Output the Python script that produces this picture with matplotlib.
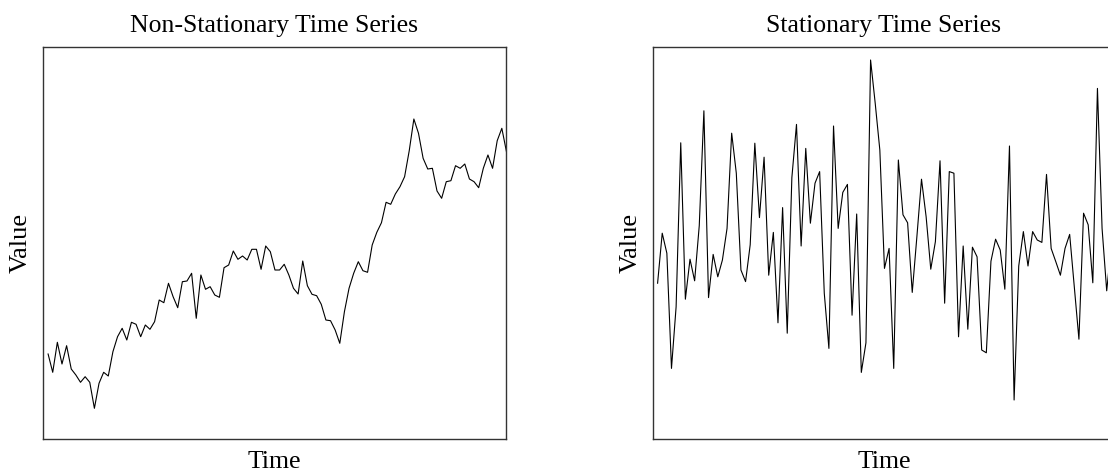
import matplotlib
matplotlib.use("Agg")
import matplotlib.pyplot as plt
import numpy as np

plt.rcParams["font.family"] = ["Liberation Serif", "DejaVu Serif"]

# Random-walk style series (trending, non-stationary)
nonstationary = [
    0.10, -1.73, 1.27, -0.90, 0.93, -1.40, -2.00, -2.73, -2.17, -2.73,
    -5.33, -2.83, -1.73, -2.10, 0.33, 1.83, 2.67, 1.50, 3.27, 3.07,
    1.83, 3.00, 2.57, 3.33, 5.50, 5.23, 7.17, 5.83, 4.73, 7.33,
    7.40, 8.17, 3.67, 8.00, 6.57, 6.83, 6.00, 5.77, 8.73, 9.00,
    10.40, 9.57, 9.90, 9.50, 10.57, 10.57, 8.57, 10.90, 10.33, 8.50,
    8.50, 9.07, 8.00, 6.67, 6.10, 9.40, 6.93, 6.07, 5.93, 5.07,
    3.50, 3.43, 2.50, 1.17, 4.33, 6.67, 8.17, 9.33, 8.43, 8.27,
    11.00, 12.27, 13.23, 15.27, 15.07, 16.10, 16.83, 17.83, 20.43, 23.60,
    22.17, 19.67, 18.60, 18.67, 16.40, 15.67, 17.33, 17.43, 18.93, 18.67,
    19.10, 17.60, 17.33, 16.73, 18.67, 20.00, 18.67, 21.43, 22.67, 20.33,
]

# White-noise style series (stationary)
stationary = [
    -0.83, 0.42, -0.08, -2.96, -1.42, 2.68, -1.23, -0.23, -0.77, 0.61,
    3.48, -1.19, -0.11, -0.67, -0.25, 0.54, 2.92, 1.92, -0.50, -0.79,
    0.13, 2.67, 0.81, 2.32, -0.63, 0.44, -1.82, 1.06, -2.08, 1.81,
    3.14, 0.10, 2.54, 0.67, 1.67, 1.96, -1.08, -2.46, 3.10, 0.54,
    1.44, 1.64, -1.63, 0.90, -3.06, -2.32, 4.75, 3.67, 2.50, -0.46,
    0.04, -2.96, 2.25, 0.88, 0.68, -1.06, 0.33, 1.77, 0.83, -0.48,
    0.21, 2.23, -1.33, 1.96, 1.92, -2.17, 0.10, -1.98, 0.07, -0.17,
    -2.50, -2.57, -0.28, 0.27, 0.00, -0.98, 2.60, -3.75, -0.40, 0.46,
    -0.40, 0.46, 0.25, 0.19, 1.89, 0.04, -0.29, -0.63, 0.04, 0.39,
    -0.92, -2.23, 0.92, 0.63, -0.82, 4.04, 0.54, -1.02, 0.13,
]

titles = ["Non-Stationary Time Series", "Stationary Time Series"]
x_label = "Time"
y_label = "Value"

W, H = 1108, 476
fig = plt.figure(figsize=(W / 100, H / 100), dpi=100)

ax_w = 463 / W
ax_h = 392 / H
ax_b = 37 / H
ax1 = fig.add_axes([43 / W, ax_b, ax_w, ax_h])
ax2 = fig.add_axes([652.5 / W, ax_b, ax_w, ax_h])

series = [nonstationary, stationary]
ylims = [(-8.4, 30.8), (-4.725, 5.075)]

for ax, ys, title, yl in zip([ax1, ax2], series, titles, ylims):
    t = np.arange(len(ys))
    ax.plot(t, ys, color="black", linewidth=0.8)
    ax.set_xlim(-1.1, 98.9)
    ax.set_ylim(*yl)
    ax.set_xticks([])
    ax.set_yticks([])
    ax.set_title(title, fontsize=18.5, pad=11)
    ax.set_xlabel(x_label, fontsize=18.5, labelpad=9)
    ax.set_ylabel(y_label, fontsize=19, labelpad=8)
    for sp in ax.spines.values():
        sp.set_color("#333333")
        sp.set_linewidth(1.0)

fig.savefig("out.png", dpi=100)
